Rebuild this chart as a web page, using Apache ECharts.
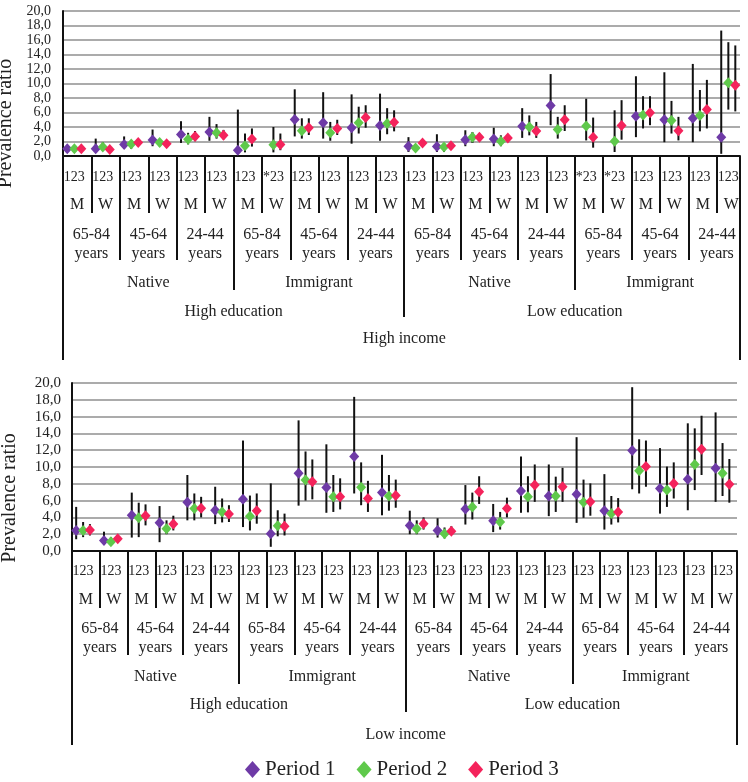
<!DOCTYPE html>
<html><head><meta charset="utf-8">
<script src="https://cdn.jsdelivr.net/npm/echarts@6/dist/echarts.min.js"></script>
<style>html,body{margin:0;padding:0;background:#fff}#c{width:748px;height:782px}</style>
</head><body><div id="c"></div>
<script>
// ---- labels ----
const periods = ['Period 1', 'Period 2', 'Period 3'];
const sexLabels = ['M', 'W'];
const ageLabels = ['65-84\nyears', '45-64\nyears', '24-44\nyears'];
const originLabels = ['Native', 'Immigrant'];
const educationLabels = ['High education', 'Low education'];
const incomeLabels = ['High income', 'Low income'];
const highPeriodRow = ['123','123','123','123','123','123','123','*23','123','123','123','123',
                       '123','123','123','123','123','123','*23','*23','123','123','123','123'];
const lowPeriodRow  = ['123','123','123','123','123','123','123','123','123','123','123','123',
                       '123','123','123','123','123','123','123','123','123','123','123','123'];

// ---- values: [prevalence ratio, CI low, CI high] per group (24 groups) ----
const highP1 = [
 [1.0,null,null],[1.0,0.55,2.4],[1.6,1.0,2.7],[2.2,1.35,3.65],[2.95,1.8,4.8],[3.3,2.1,5.4],
 [0.8,0.3,6.4],null,[5.05,2.7,9.2],[4.6,2.4,8.8],[3.9,1.7,8.5],[4.2,2.1,8.6],
 [1.35,0.55,2.6],[1.3,0.55,3.0],[2.25,1.35,3.55],[2.35,1.35,3.9],[4.1,2.5,6.6],[6.95,4.25,11.3],
 null,null,[5.5,2.6,11.0],[5.0,1.9,11.55],[5.2,1.9,12.7],[2.6,0.3,17.3]];
const highP2 = [
 [1.0,null,null],[1.25,0.7,1.9],[1.65,1.0,2.2],[1.85,1.35,2.3],[2.3,1.6,3.2],[3.2,2.4,4.4],
 [1.4,0.5,3.1],[1.55,0.5,4.0],[3.5,2.4,5.2],[3.2,2.1,4.7],[4.6,3.1,6.8],[4.5,3.0,6.6],
 [1.1,0.9,1.35],[1.25,0.55,1.7],[2.6,1.8,3.3],[2.05,1.35,2.85],[4.0,2.85,5.6],[3.65,2.4,5.4],
 [4.15,2.15,7.9],[2.05,0.55,6.3],[5.65,3.8,8.25],[4.9,3.1,7.6],[5.6,3.4,9.1],[10.1,6.4,15.7]];
const highP3 = [
 [1.0,null,null],[0.9,0.75,1.15],[1.85,1.5,2.2],[1.7,1.35,2.05],[2.7,2.05,3.45],[2.85,2.3,3.6],
 [2.35,1.3,3.8],[1.6,0.8,3.1],[3.9,2.9,5.2],[3.8,2.9,5.0],[5.3,3.9,7.0],[4.65,3.4,6.3],
 [1.8,1.55,2.1],[1.4,0.9,1.8],[2.6,2.05,3.1],[2.5,1.95,3.0],[3.45,2.5,4.7],[5.0,3.45,7.0],
 [2.6,1.15,5.3],[4.2,2.25,7.7],[5.95,4.25,8.25],[3.5,2.15,5.4],[6.4,3.8,10.5],[9.75,6.15,15.25]];
const lowP1 = [
 [2.45,1.4,5.25],[1.25,0.75,2.3],[4.25,1.6,6.95],[3.35,1.05,5.35],[5.8,3.65,9.05],[4.85,3.2,7.65],
 [6.15,2.85,13.15],[2.05,0.5,8.05],[9.25,5.4,15.55],[7.55,4.55,12.7],[11.25,6.85,18.35],[6.95,4.25,11.45],
 [3.05,2.0,4.8],[2.45,1.6,3.9],[5.0,3.15,7.85],[3.6,2.25,5.6],[7.15,4.55,11.25],[6.55,4.15,10.3],
 [6.75,3.35,13.55],[4.8,2.55,9.15],[11.95,7.35,19.5],[7.45,4.45,12.25],[8.55,4.85,15.2],[9.85,5.85,16.5]];
const lowP2 = [
 [2.45,1.65,3.45],[1.1,0.8,1.65],[3.95,1.65,5.75],[2.65,2.0,3.65],[5.05,3.65,6.85],[4.65,3.4,6.25],
 [4.15,2.45,6.6],[3.0,1.75,4.85],[8.45,6.0,11.85],[6.45,4.65,9.05],[7.6,5.45,10.55],[6.55,4.8,9.05],
 [2.65,2.0,3.65],[2.05,1.5,2.8],[5.25,3.75,6.95],[3.45,2.55,4.65],[6.45,4.6,8.9],[6.55,4.65,8.85],
 [5.8,3.95,8.5],[4.45,3.15,6.55],[9.55,6.85,13.3],[7.25,5.25,10.05],[10.3,7.25,14.6],[9.25,6.55,12.85]];
const lowP3 = [
 [2.5,1.85,3.2],[1.45,1.25,1.7],[4.2,3.05,5.55],[3.2,2.45,4.2],[5.1,4.0,6.45],[4.4,3.45,5.45],
 [4.8,3.25,6.85],[2.95,1.85,4.45],[8.25,6.15,10.9],[6.45,4.95,8.65],[6.25,4.65,8.35],[6.6,5.15,8.5],
 [3.25,2.55,4.0],[2.35,2.0,2.95],[7.05,5.6,8.9],[5.05,4.0,6.35],[7.85,5.85,10.3],[7.65,5.85,9.9],
 [5.85,4.2,8.05],[4.65,3.4,6.3],[10.05,7.65,13.15],[8.05,6.25,10.55],[12.1,9.05,16.1],[7.95,5.75,10.95]];

// ---- styling / layout ----
const COLORS = ['#6e3aa6', '#5fc94b', '#f4235b'];
const OFFS = [0.15, 0.40, 0.645];
const FONT = 'Liberation Serif';
const TXT = '#222';
const LINE = '#111';

const panels = [
  { grid: {left: 63, top: 11, width: 677, height: 145}, T: 23.81,
    data: [highP1, highP2, highP3], periodRow: highPeriodRow, income: incomeLabels[0],
    yFont: 14, yMargin: 12, nameGap: 43, nameShift: 80,
    ticks: [57, 104, 134, 161, 204], margins: [14, 41, 69, 119, 148, 175] },
  { grid: {left: 72, top: 383, width: 665, height: 168}, T: 23.92,
    data: [lowP1, lowP2, lowP3], periodRow: lowPeriodRow, income: incomeLabels[1],
    yFont: 15, yMargin: 11, nameGap: 52, nameShift: 62,
    ticks: [57, 104, 133, 161, 194], margins: [13, 41, 68, 118, 146, 176] }
];

const grids = [], xAxes = [], yAxes = [], series = [];
const NG = panels.length;

panels.forEach((p, gi) => {
  const gp = p.grid.width / p.T; // px per group
  grids[gi] = Object.assign({outerBoundsMode: 'none', containLabel: false}, p.grid);
  // label grid: same place, full (untruncated) width of 24 groups
  grids[NG + gi] = {outerBoundsMode: 'none', containLabel: false, left: p.grid.left,
    top: p.grid.top, height: p.grid.height, width: 24 * gp};

  const base = {gridIndex: gi, type: 'value', position: 'bottom', offset: 0,
    min: 0, max: p.T, splitLine: {show: false}, silent: true};
  const dataAxisIndex = xAxes.length;
  // divider axes (ticks at group boundaries)
  [1, 2, 6, 12, 24].forEach((iv, j) => {
    xAxes.push(Object.assign({}, base, {
      interval: iv,
      axisLabel: {show: false},
      axisLine: {show: j === 0, onZero: false, lineStyle: {color: LINE, width: 2}},
      axisTick: {show: true, length: p.ticks[j], lineStyle: {color: LINE, width: 2}}
    }));
  });
  // label axes (categories centred in their spans)
  const lab = (n, margin, fn, size, lh, pad) => {
    xAxes.push({
      gridIndex: NG + gi, type: 'category', position: 'bottom', offset: 0, silent: true,
      boundaryGap: true, data: Array.from({length: n}, (_, k) => 'c' + k),
      axisLine: {show: false}, axisTick: {show: false}, splitLine: {show: false},
      axisLabel: {show: true, interval: 0, margin: margin,
        formatter: (v, k) => fn(k),
        fontFamily: FONT, fontSize: size, lineHeight: lh || size, color: TXT,
        padding: pad || 0}
    });
  };
  lab(24, p.margins[0], k => p.periodRow[k], 14, 14, [0, 0.2 * gp, 0, 0]);
  lab(24, p.margins[1], k => sexLabels[k % 2], 16);
  lab(12, p.margins[2], k => ageLabels[k % 3], 16, 19);
  lab(4, p.margins[3], k => originLabels[k % 2], 16);
  lab(2, p.margins[4], k => educationLabels[k], 16);
  lab(1, p.margins[5], k => p.income, 16);

  yAxes[gi] = {
    gridIndex: gi, type: 'value', min: 0, max: 20, interval: 2,
    name: 'Prevalence ratio', nameLocation: 'middle', nameGap: p.nameGap,
    nameTextStyle: {fontFamily: FONT, fontSize: 20, color: TXT, padding: [0, p.nameShift, 0, 0]},
    axisLine: {show: true, lineStyle: {color: LINE, width: 2}},
    axisTick: {show: false},
    axisLabel: {fontFamily: FONT, fontSize: p.yFont, color: TXT, margin: p.yMargin,
      formatter: v => v.toFixed(1).replace('.', ',')},
    splitLine: {show: true, lineStyle: {color: '#8f8f8f', width: 1.5}}
  };
  yAxes[NG + gi] = {gridIndex: NG + gi, type: 'value', min: 0, max: 20, show: false,
    splitLine: {show: false}};

  // error bars
  const bars = [];
  p.data.forEach((arr, pi) => {
    arr.forEach((d, i) => {
      if (d && d[1] != null && d[2] != null) bars.push([i + OFFS[pi], d[1], d[2]]);
    });
  });
  series.push({
    type: 'custom', name: 'CI' + gi, xAxisIndex: dataAxisIndex, yAxisIndex: gi,
    z: 2, silent: true, data: bars, encode: {x: 0, y: [1, 2]},
    renderItem: (params, api) => {
      const a = api.coord([api.value(0), api.value(1)]);
      const b = api.coord([api.value(0), api.value(2)]);
      return {type: 'line', shape: {x1: a[0], y1: a[1], x2: b[0], y2: b[1]},
        style: {stroke: LINE, lineWidth: 2}};
    }
  });
  // markers
  p.data.forEach((arr, pi) => {
    const pts = [];
    arr.forEach((d, i) => { if (d) pts.push([i + OFFS[pi], d[0]]); });
    series.push({
      type: 'scatter', name: periods[pi], xAxisIndex: dataAxisIndex, yAxisIndex: gi,
      z: 5, symbol: 'diamond', symbolSize: [10, 11], data: pts,
      itemStyle: {color: COLORS[pi], opacity: 1}
    });
  });
});

const chart = echarts.init(document.getElementById('c'), null, {renderer: 'canvas'});
chart.setOption({
  animation: false,
  backgroundColor: '#fff',
  grid: grids,
  xAxis: xAxes,
  yAxis: yAxes,
  legend: {
    data: periods.map(n => ({name: n, icon: 'diamond'})),
    left: 245, top: 759, padding: 0, itemWidth: 15, itemHeight: 17, itemGap: 21,
    textStyle: {fontFamily: FONT, fontSize: 21, color: TXT}
  },
  series: series
});
</script></body></html>
